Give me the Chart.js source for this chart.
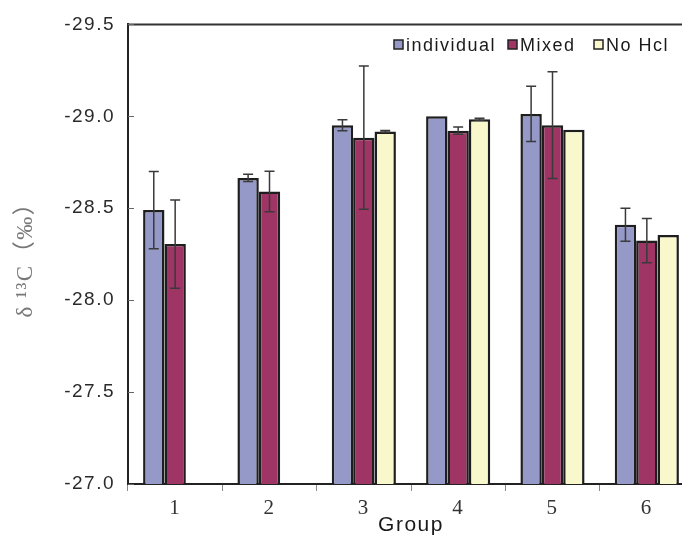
<!DOCTYPE html>
<html>
<head>
<meta charset="utf-8">
<script src="https://cdn.jsdelivr.net/npm/chart.js@4.4.1/dist/chart.umd.min.js"></script>
<style>
  html, body { margin: 0; padding: 0; background: #fff; overflow: hidden; }
  #wrap { width: 700px; height: 538px; position: relative; }
</style>
</head>
<body>
<div id="wrap"><canvas id="c"></canvas></div>
<script>
// ---- data ----
const categories = ['1', '2', '3', '4', '5', '6'];
const seriesNames = ['individual', 'Mixed', 'No Hcl'];
const individual = [-28.49, -28.665, -28.952, -29.0, -29.013, -28.41];
const individualErr = [0.21, 0.02, 0.03, 0, 0.15, 0.09];
const mixed = [-28.305, -28.591, -28.884, -28.922, -28.952, -28.324];
const mixedErr = [0.24, 0.11, 0.39, 0.02, 0.29, 0.12];
const noHcl = [null, null, -28.918, -28.984, -28.927, -28.354];
const noHclErr = [0, 0, 0.005, 0.005, 0, 0];
const yMin = -29.5, yMax = -27.0, yStep = 0.5;

const colors = ['#9499C8', '#9E3565', '#F9F7CC'];
const errs = [individualErr, mixedErr, noHclErr];

const spacing = {
  id: 'spacing',
  beforeUpdate(chart) { chart.ctx.letterSpacing = '1.5px'; },
  beforeLayout(chart) { chart.ctx.letterSpacing = '1.5px'; },
  beforeDraw(chart) { chart.ctx.letterSpacing = '1.5px'; }
};

const extras = {
  id: 'extras',
  afterDatasetsDraw(chart) {
    const ctx = chart.ctx, y = chart.scales.y;
    ctx.save();
    ctx.strokeStyle = '#3a3a3a';
    ctx.lineWidth = 1.5;
    chart.data.datasets.forEach((ds, i) => {
      const meta = chart.getDatasetMeta(i);
      meta.data.forEach((el, j) => {
        const v = ds.data[j], e = errs[i][j];
        if (v == null || !e) return;
        const x = el.x;
        const t = y.getPixelForValue(v - e), b = y.getPixelForValue(v + e);
        ctx.beginPath();
        ctx.moveTo(x, t); ctx.lineTo(x, b);
        ctx.moveTo(x - 5, t); ctx.lineTo(x + 5, t);
        ctx.moveTo(x - 5, b); ctx.lineTo(x + 5, b);
        ctx.stroke();
      });
    });
    ctx.restore();
  },
  afterDraw(chart) {
    const ctx = chart.ctx, a = chart.chartArea, y = chart.scales.y;
    ctx.save();
    // top frame line
    ctx.strokeStyle = '#333';
    ctx.lineWidth = 2;
    ctx.beginPath();
    ctx.moveTo(a.left - 1, a.top); ctx.lineTo(a.right, a.top);
    ctx.moveTo(a.right, a.top); ctx.lineTo(a.right, a.bottom);
    ctx.stroke();
    // inward y ticks
    ctx.strokeStyle = '#666';
    ctx.lineWidth = 1;
    y.ticks.forEach((tk, i) => {
      const py = Math.round(y.getPixelForTick(i)) + 0.5;
      ctx.beginPath();
      ctx.moveTo(a.left, py); ctx.lineTo(a.left + 6, py);
      ctx.stroke();
    });
    // legend
    ctx.letterSpacing = '1.5px';
    ctx.font = '18px "Liberation Sans", Arial, sans-serif';
    ctx.textBaseline = 'middle';
    ctx.textAlign = 'left';
    const boxX = [394, 508, 594];
    const ly = 45;
    seriesNames.forEach((name, i) => {
      ctx.fillStyle = colors[i];
      ctx.fillRect(boxX[i], ly - 5, 9, 9);
      ctx.strokeStyle = '#222';
      ctx.lineWidth = 1.5;
      ctx.strokeRect(boxX[i], ly - 5, 9, 9);
      ctx.fillStyle = '#1a1a1a';
      ctx.fillText(name, boxX[i] + 12, ly + 1);
    });
    ctx.restore();
  }
};

new Chart(document.getElementById('c'), {
  type: 'bar',
  data: {
    labels: categories,
    datasets: [
      { label: seriesNames[0], data: individual, backgroundColor: colors[0] },
      { label: seriesNames[1], data: mixed, backgroundColor: colors[1] },
      { label: seriesNames[2], data: noHcl, backgroundColor: colors[2] }
    ].map(d => Object.assign(d, { borderColor: '#1e1e1e', borderWidth: 2.5, categoryPercentage: 0.68, barPercentage: 1.0 }))
  },
  options: {
    responsive: true,
    maintainAspectRatio: false,
    animation: false,
    layout: { padding: { top: 20, right: 6, left: 0, bottom: 0 } },
    plugins: { legend: { display: false }, tooltip: { enabled: false } },
    scales: {
      x: {
        grid: { offset: true, drawOnChartArea: false, tickLength: 7, color: '#888', lineWidth: 1 },
        border: { color: '#222', width: 2 },
        ticks: { color: '#333', font: { family: '"Liberation Serif", "DejaVu Serif", serif', size: 21 }, padding: 5 },
        title: { display: true, text: 'Group', color: '#1a1a1a', font: { family: '"Liberation Sans", Arial, sans-serif', size: 21 }, padding: { top: 0, bottom: 0 } },
        afterFit(s) { s.height = 54; }
      },
      y: {
        reverse: true,
        min: yMin,
        max: yMax,
        grid: { display: true, drawOnChartArea: false, drawTicks: false },
        border: { color: '#222', width: 2 },
        ticks: { stepSize: yStep, color: '#2a2a2a', padding: 13, font: { family: '"Liberation Sans", Arial, sans-serif', size: 19 }, callback: v => v.toFixed(1) },
        title: { display: true, text: 'δ ¹³C（‰）', color: '#777', font: { family: '"Liberation Serif", "Noto Sans CJK SC", serif', size: 23 }, padding: { top: 12, bottom: 0 } },
        afterFit(s) { s.width = 128; }
      }
    }
  },
  plugins: [spacing, extras]
});
</script>
</body>
</html>
